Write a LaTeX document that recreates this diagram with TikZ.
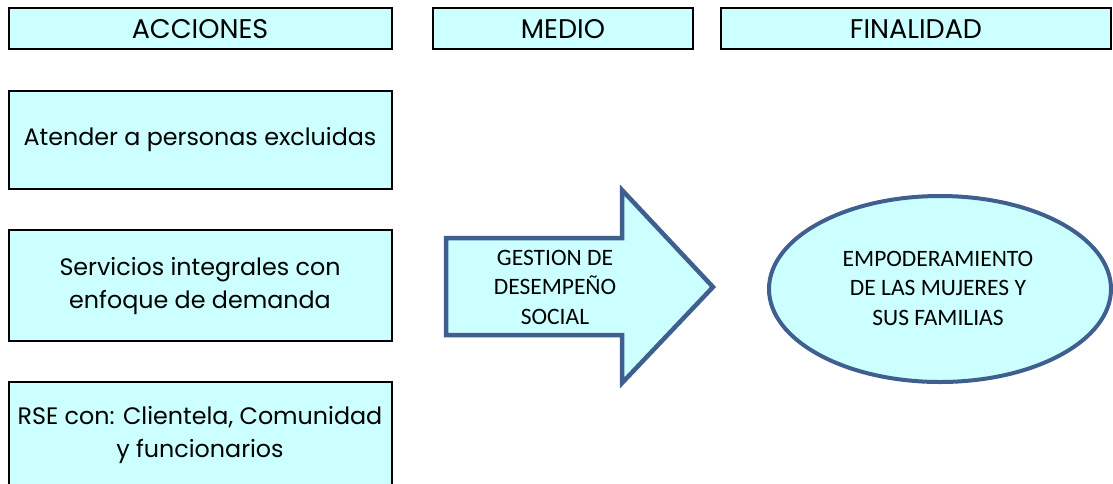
\documentclass[tikz,border=0pt]{standalone}
\usepackage{fontspec}
\setmainfont{Poppins}
\newfontfamily\calfont{Carlito}
\usetikzlibrary{shapes.geometric}
\definecolor{boxfill}{HTML}{CCFFFF}
\definecolor{edgeblue}{HTML}{3F5F8F}
\tikzset{
  hdrbox/.style={draw=black,line width=2pt,fill=boxfill},
  actbox/.style={draw=black,line width=2pt,fill=boxfill},
  hdrtxt/.style={font=\fontsize{27}{33}\selectfont,align=center,inner sep=0pt},
  txt/.style={font=\fontsize{23.8}{33}\selectfont,align=center,inner sep=0pt},
  captxt/.style={font=\calfont\fontsize{23.5}{29.5}\selectfont,align=center,inner sep=0pt}
}
\begin{document}
\begin{tikzpicture}[x=1pt,y=-1pt]
\useasboundingbox (0,0) rectangle (1113,483);
% headers
\draw[hdrbox] (9,8) rectangle (392,49);
\node[hdrtxt] (hacc) at (200,29) {ACCIONES};
\draw[hdrbox] (433,8) rectangle (693,49);
\node[hdrtxt] (hmed) at (563,29) {MEDIO};
\draw[hdrbox] (721,8) rectangle (1111,49);
\node[hdrtxt] (hfin) at (916,29) {FINALIDAD};
% action boxes
\draw[actbox] (9,91) rectangle (392,189);
\node[txt] (a1) at (200,140) {Atender a personas excluidas};
\draw[actbox] (9,230) rectangle (392,341);
\node[txt] (a2) at (200,286) {Servicios integrales con\\enfoque de demanda};
\draw[actbox] (9,382) rectangle (392,495);
\node[txt] (a3) at (200,435) {RSE con: Clientela, Comunidad\\y funcionarios};
% arrow
\draw[edgeblue,line width=4.5pt,fill=boxfill,line join=miter]
  (446,238) -- (622,238) -- (622,190) -- (713,287) -- (622,383) -- (622,335) -- (446,335) -- cycle;
\node[captxt] (gds) at (555,287) {GESTION DE\\DESEMPEÑO\\SOCIAL};
% ellipse
\node[ellipse,draw=edgeblue,line width=4pt,fill=boxfill,minimum width=342pt,minimum height=186pt,inner sep=0pt] (emp) at (940,289) {};
\node[captxt] (empt) at (938,288) {EMPODERAMIENTO\\DE LAS MUJERES Y\\SUS FAMILIAS};
\end{tikzpicture}
\end{document}
